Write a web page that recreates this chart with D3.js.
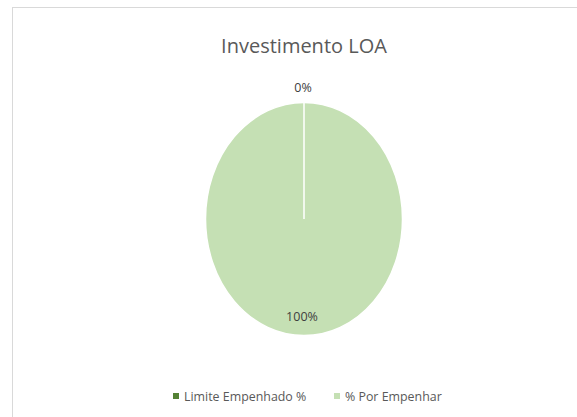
<!DOCTYPE html>
<html><head><meta charset="utf-8">
<script src="https://cdn.jsdelivr.net/npm/d3@7"></script>
<style>body{margin:0;background:#fff;} svg{display:block;}</style>
</head><body>
<svg id="c" width="577" height="417"></svg>
<script>
const title = "Investimento LOA";
const categories = ["Limite Empenhado %", "% Por Empenhar"];
const values = [0, 100];
const labels = ["0%", "100%"];
const colors = ["#548235", "#C5E0B4"];

const svg = d3.select("#c");
const font = "'Open Sans', sans-serif";

svg.append("rect").attr("x", 12.5).attr("y", 7.5).attr("width", 600).attr("height", 450)
  .attr("fill", "#fff").attr("stroke", "#D9D9D9").attr("stroke-width", 1);

svg.append("text").attr("x", 304).attr("y", 53).attr("text-anchor", "middle")
  .attr("font-family", font).attr("font-size", 20).attr("fill", "#595959").text(title);

const cx = 304, cy = 219, rx = 98.5, ry = 116.5;
const pie = d3.pie().sort(null).value(d => d)(values);
const arc = d3.arc().innerRadius(0).outerRadius(rx);
const g = svg.append("g").attr("transform", `translate(${cx},${cy}) scale(1,${ry/rx})`);
g.selectAll("path").data(pie.slice().reverse()).join("path")
  .attr("d", arc)
  .attr("fill", (d) => colors[d.index])
  .attr("stroke", "#fff").attr("stroke-width", 1.5)
  .attr("vector-effect", "non-scaling-stroke");

const lblPos = [[303, 92], [302, 321]];
labels.forEach((t, i) => {
  svg.append("text").attr("x", lblPos[i][0]).attr("y", lblPos[i][1]).attr("text-anchor", "middle")
    .attr("font-family", font).attr("font-size", 12.5).attr("fill", "#404040").text(t);
});

const legX = [173, 334];
categories.forEach((c, i) => {
  svg.append("rect").attr("x", legX[i]).attr("y", 393).attr("width", 6).attr("height", 6).attr("fill", colors[i]);
  svg.append("text").attr("x", legX[i] + 11).attr("y", 401)
    .attr("font-family", font).attr("font-size", 12.4).attr("fill", "#595959").text(c);
});
</script>
</body></html>
